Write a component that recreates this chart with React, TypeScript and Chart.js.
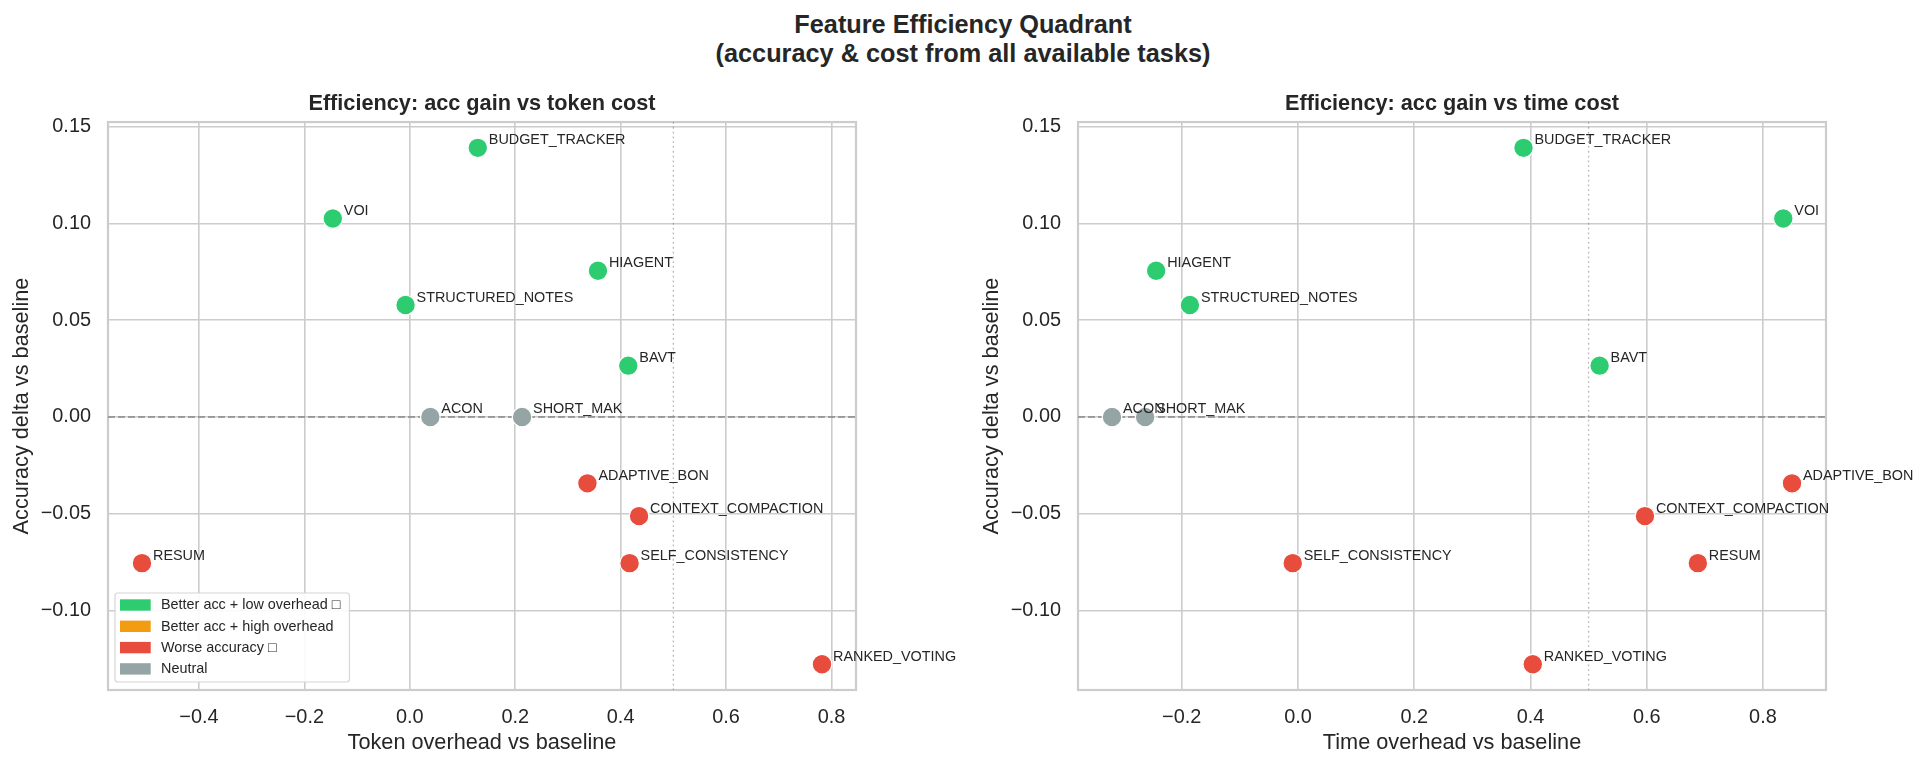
import React, { useEffect, useRef } from 'react';
import { Chart, registerables } from 'chart.js';

Chart.register(...registerables);

// ---------------- data ----------------
const features = [
  'BUDGET_TRACKER', 'VOI', 'HIAGENT', 'STRUCTURED_NOTES', 'BAVT', 'ACON',
  'SHORT_MAK', 'ADAPTIVE_BON', 'CONTEXT_COMPACTION', 'SELF_CONSISTENCY', 'RESUM', 'RANKED_VOTING',
];
const accDelta = [0.139, 0.1025, 0.0755, 0.0578, 0.0265, 0, 0, -0.0343, -0.0512, -0.0755, -0.0755, -0.1277];
const tokenOverhead = [0.129, -0.146, 0.357, -0.008, 0.4145, 0.039, 0.213, 0.337, 0.435, 0.417, -0.508, 0.782];
const timeOverhead = [0.388, 0.835, -0.244, -0.186, 0.519, -0.32, -0.263, 0.85, 0.597, -0.009, 0.688, 0.404];
const featureCategory = ['low', 'low', 'low', 'low', 'low', 'neutral', 'neutral', 'worse', 'worse', 'worse', 'worse', 'worse'];

const categoryKeys = ['low', 'high', 'worse', 'neutral'];
const categoryLabels = ['Better acc + low overhead \u25A1', 'Better acc + high overhead', 'Worse accuracy \u25A1', 'Neutral'];
const categoryColors = ['#2ecc71', '#f39c12', '#e74c3c', '#95a5a6'];

const yTicks = [-0.1, -0.05, 0, 0.05, 0.1, 0.15];
const tokenTicks = [-0.4, -0.2, 0, 0.2, 0.4, 0.6, 0.8];
const timeTicks = [-0.2, 0, 0.2, 0.4, 0.6, 0.8];
const overheadThreshold = 0.5;

const suptitleLines = ['Feature Efficiency Quadrant', '(accuracy & cost from all available tasks)'];

// ---------------- helpers ----------------
const FONT = '"Liberation Sans", Arial, Helvetica, sans-serif';
const TEXT = '#262626';

function autoBounds(values: number[]): [number, number] {
  const mn = Math.min(...values);
  const mx = Math.max(...values);
  const m = (mx - mn) * 0.05;
  return [mn - m, mx + m];
}

function fmt(v: number, d: number): string {
  const s = Math.abs(v) < 1e-9 ? (0).toFixed(d) : v.toFixed(d);
  return s.replace('-', '\u2212');
}

function makeDecor(showLegend: boolean) {
  return {
    id: 'decor',
    beforeDatasetsDraw(chart: any) {
      const { ctx, chartArea } = chart;
      const { left, right, top, bottom } = chartArea;
      const x = chart.scales.x;
      const y = chart.scales.y;
      ctx.save();
      ctx.strokeStyle = '#cccccc';
      ctx.lineWidth = 2.2;
      ctx.strokeRect(left, top, right - left, bottom - top);
      // vertical dotted threshold
      const vx = x.getPixelForValue(overheadThreshold);
      ctx.beginPath();
      ctx.setLineDash([1.8, 3]);
      ctx.strokeStyle = 'rgba(128,128,128,0.55)';
      ctx.lineWidth = 1.3;
      ctx.moveTo(vx, top);
      ctx.lineTo(vx, bottom);
      ctx.stroke();
      // horizontal dashed zero line
      const hy = y.getPixelForValue(0);
      ctx.beginPath();
      ctx.setLineDash([7, 3]);
      ctx.strokeStyle = 'rgba(128,128,128,0.9)';
      ctx.lineWidth = 1.5;
      ctx.moveTo(left, hy);
      ctx.lineTo(right, hy);
      ctx.stroke();
      ctx.restore();
    },
    afterDatasetsDraw(chart: any) {
      const { ctx, chartArea } = chart;
      ctx.save();
      ctx.font = `14.4px ${FONT}`;
      ctx.fillStyle = TEXT;
      ctx.textAlign = 'left';
      ctx.textBaseline = 'alphabetic';
      chart.data.datasets.forEach((ds: any, di: number) => {
        const meta = chart.getDatasetMeta(di);
        meta.data.forEach((pt: any, i: number) => {
          ctx.fillText(ds.data[i].name, pt.x + 11, pt.y - 3.5);
        });
      });
      if (showLegend) {
        ctx.font = `14.4px ${FONT}`;
        let maxW = 0;
        categoryLabels.forEach((l) => { maxW = Math.max(maxW, ctx.measureText(l).width); });
        const bw = 46 + maxW + 9;
        const bh = 89;
        const bx = chartArea.left + 7;
        const by = chartArea.bottom - 8 - bh;
        ctx.beginPath();
        ctx.roundRect(bx, by, bw, bh, 3);
        ctx.fillStyle = 'rgba(255,255,255,0.9)';
        ctx.fill();
        ctx.strokeStyle = '#d6d6d6';
        ctx.lineWidth = 1.2;
        ctx.stroke();
        categoryLabels.forEach((l, i) => {
          const cy = by + 12 + i * 21.3;
          ctx.fillStyle = categoryColors[i];
          ctx.fillRect(bx + 5, cy - 5.7, 30.7, 11.4);
          ctx.fillStyle = TEXT;
          ctx.textBaseline = 'middle';
          ctx.fillText(l, bx + 46, cy + 0.5);
        });
      }
      ctx.restore();
    },
  };
}

function buildChart(
  canvas: HTMLCanvasElement,
  xValues: number[],
  xTicks: number[],
  title: string,
  xTitle: string,
  padRight: number,
  showLegend: boolean,
) {
  const [xMin, xMax] = autoBounds(xValues);
  const [yMin, yMax] = autoBounds(accDelta);
  const datasets = categoryKeys.map((key, ci) => ({
    label: categoryLabels[ci],
    data: features
      .map((name, i) => ({ x: xValues[i], y: accDelta[i], name, cat: featureCategory[i] }))
      .filter((d) => d.cat === key),
    backgroundColor: categoryColors[ci],
    borderColor: '#ffffff',
    borderWidth: 1.2,
    pointRadius: 9.8,
    pointHoverRadius: 9.8,
  }));

  return new Chart(canvas, {
    type: 'scatter',
    data: { datasets },
    plugins: [makeDecor(showLegend)],
    options: {
      animation: false,
      responsive: false,
      maintainAspectRatio: false,
      events: [],
      layout: { padding: { left: 0, right: padRight, top: 0, bottom: 0 } },
      plugins: {
        legend: { display: false },
        tooltip: { enabled: false },
        title: {
          display: true,
          text: title,
          fullSize: false,
          color: TEXT,
          font: { family: FONT, size: 21.7, weight: 'bold', lineHeight: 1.2 },
          padding: { top: 6, bottom: 5 },
        },
      },
      scales: {
        x: {
          type: 'linear',
          min: xMin,
          max: xMax,
          bounds: 'data',
          afterBuildTicks: (s: any) => { s.ticks = xTicks.map((v) => ({ value: v })); },
          afterFit: (s: any) => { s.height = 76; },
          grid: { color: '#cccccc', lineWidth: 1.6, drawTicks: false },
          border: { display: false },
          ticks: {
            autoSkip: false,
            maxRotation: 0,
            padding: 16,
            color: TEXT,
            font: { family: FONT, size: 19.9 },
            callback: (v: any) => fmt(Number(v), 1),
          },
          title: {
            display: true,
            text: xTitle,
            color: TEXT,
            font: { family: FONT, size: 21.7, lineHeight: 1.2 },
            padding: { top: 0, bottom: 10 },
          },
        },
        y: {
          type: 'linear',
          min: yMin,
          max: yMax,
          bounds: 'data',
          afterBuildTicks: (s: any) => { s.ticks = yTicks.map((v) => ({ value: v })); },
          afterFit: (s: any) => { s.width = 108; },
          grid: { color: '#cccccc', lineWidth: 1.6, drawTicks: false },
          border: { display: false },
          ticks: {
            autoSkip: false,
            padding: 17,
            color: TEXT,
            font: { family: FONT, size: 19.9 },
            callback: (v: any) => fmt(Number(v), 2),
          },
          title: {
            display: true,
            text: 'Accuracy delta vs baseline',
            color: TEXT,
            font: { family: FONT, size: 21.7, lineHeight: 1.2 },
            padding: { top: 9, bottom: 0 },
          },
        },
      },
    } as any,
  });
}

// ---------------- component ----------------
export default function App() {
  const leftRef = useRef<HTMLCanvasElement>(null);
  const rightRef = useRef<HTMLCanvasElement>(null);

  useEffect(() => {
    document.body.style.margin = '0';
    const c1 = buildChart(leftRef.current!, tokenOverhead, tokenTicks,
      'Efficiency: acc gain vs token cost', 'Token overhead vs baseline', 104, true);
    const c2 = buildChart(rightRef.current!, timeOverhead, timeTicks,
      'Efficiency: acc gain vs time cost', 'Time overhead vs baseline', 100, false);
    return () => { c1.destroy(); c2.destroy(); };
  }, []);

  return (
    <div style={{ position: 'absolute', left: 0, top: 0, width: 1926, height: 766, background: '#ffffff', overflow: 'hidden' }}>
      <div
        style={{
          position: 'absolute', left: 0, top: 9.8, width: 1926, textAlign: 'center',
          fontFamily: FONT, fontWeight: 'bold', fontSize: 25.3, lineHeight: '29px', color: TEXT,
        }}
      >
        {suptitleLines.map((l) => (<div key={l}>{l}</div>))}
      </div>
      <canvas ref={leftRef} width={960} height={681} style={{ position: 'absolute', left: 0, top: 85, width: 960, height: 681 }} />
      <canvas ref={rightRef} width={956} height={681} style={{ position: 'absolute', left: 970, top: 85, width: 956, height: 681 }} />
    </div>
  );
}
